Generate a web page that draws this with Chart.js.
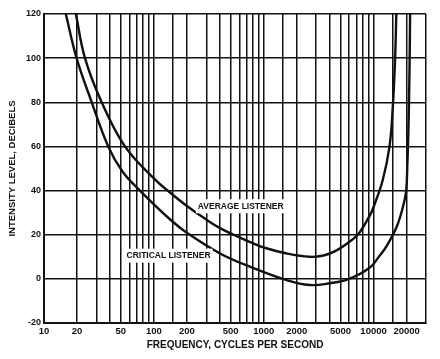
<!DOCTYPE html>
<html>
<head>
<meta charset="utf-8">
<script src="https://cdn.jsdelivr.net/npm/chart.js@4.4.1/dist/chart.umd.min.js"></script>
<style>
html,body{margin:0;padding:0;background:#fff;}
#wrap{width:440px;height:359px;}
</style>
</head>
<body>
<div id="wrap"><canvas id="c" width="440" height="359"></canvas></div>
<script>
// Frequencies (Hz) and intensity levels (dB)
const criticalFreq = [15.8, 19.8, 27.2, 38.4, 52, 74.6, 140, 198, 400, 794, 1618, 2618, 4000, 6000, 9200, 11340, 13000, 16200, 18500, 19800, 20300, 20700, 21000, 21300, 21500];
const criticalDb   = [120, 100, 80, 60, 48.5, 40, 27, 21, 11.5, 5, -0.6, -2.8, -2, 0, 5, 10.5, 14.5, 23.5, 32.6, 40, 52, 65, 80, 100, 120];

const averageFreq = [19.5, 23.6, 33.5, 54.5, 100, 135, 200, 291, 400, 600, 794, 1000, 1618, 2618, 3500, 4570, 6490, 7460, 9200, 9900, 12100, 13970, 14960, 15700, 16100];
const averageDb   = [120, 100, 80, 60, 45.5, 39.8, 33, 27.3, 23, 18.8, 16.2, 14.2, 11.5, 10, 10.6, 12.8, 18, 21, 28.5, 32, 44.7, 60, 78, 100, 120];

const xLabeled = [10, 20, 50, 100, 200, 500, 1000, 2000, 5000, 10000, 20000];
const yTicks = [-20, 0, 20, 40, 60, 80, 100, 120];

const seriesNames = ['AVERAGE LISTENER', 'CRITICAL LISTENER'];
const xTitle = 'FREQUENCY, CYCLES PER SECOND';
const yTitle = 'INTENSITY LEVEL, DECIBELS';

const toPts = (fs, ds) => fs.map((f, i) => ({x: f, y: ds[i]}));
const INK = '#111';
const FONT = "'Liberation Sans', Arial, sans-serif";

// curve labels anchored in data coordinates
const curveLabels = [
  {text: seriesNames[0], x: 618, y: 32.9},
  {text: seriesNames[1], x: 136, y: 10.5}
];

const labelPlugin = {
  id: 'curveLabels',
  afterDatasetsDraw(chart) {
    const ctx = chart.ctx;
    const xs = chart.scales.x, ys = chart.scales.y;
    ctx.save();
    ctx.font = 'bold 8.5px ' + FONT;
    ctx.textAlign = 'center';
    ctx.textBaseline = 'middle';
    curveLabels.forEach(l => {
      const px = xs.getPixelForValue(l.x);
      const py = ys.getPixelForValue(l.y);
      const w = ctx.measureText(l.text).width;
      ctx.fillStyle = '#fff';
      ctx.fillRect(px - w / 2 - 2, py - 7, w + 4, 14);
      ctx.fillStyle = INK;
      ctx.fillText(l.text, px, py);
    });
    ctx.restore();
  }
};

new Chart(document.getElementById('c'), {
  type: 'line',
  data: {
    datasets: [
      {label: seriesNames[0], data: toPts(averageFreq, averageDb)},
      {label: seriesNames[1], data: toPts(criticalFreq, criticalDb)}
    ]
  },
  options: {
    responsive: false,
    animation: false,
    devicePixelRatio: 1,
    layout: {padding: {top: 14, right: 14, left: 0, bottom: 0}},
    elements: {
      point: {radius: 0},
      line: {borderColor: INK, borderWidth: 2.4, tension: 0.4, fill: false}
    },
    plugins: {legend: {display: false}, tooltip: {enabled: false}},
    scales: {
      x: {
        type: 'logarithmic',
        min: 10,
        max: 30000,
        afterFit(s) { s.height = 36; },
        grid: {color: INK, lineWidth: 1.5, tickLength: 0},
        border: {color: INK, width: 2},
        ticks: {
          autoSkip: false,
          maxRotation: 0,
          padding: 3,
          color: INK,
          font: {family: FONT, weight: 'bold', size: 9.5},
          callback(v) { return xLabeled.includes(Math.round(v)) ? String(Math.round(v)) : ''; }
        },
        title: {
          display: true,
          text: xTitle,
          color: INK,
          font: {family: FONT, weight: 'bold', size: 10},
          padding: {top: 0, bottom: 8}
        }
      },
      y: {
        type: 'linear',
        min: -20,
        max: 120,
        afterFit(s) { s.width = 44; },
        afterBuildTicks(s) { s.ticks = yTicks.map(v => ({value: v})); },
        grid: {color: INK, lineWidth: 1.5, tickLength: 0},
        border: {color: INK, width: 2},
        ticks: {
          padding: 3,
          color: INK,
          font: {family: FONT, weight: 'bold', size: 9}
        },
        title: {
          display: true,
          text: yTitle,
          color: INK,
          font: {family: FONT, weight: 'bold', size: 9.5},
          padding: {top: 7, bottom: 0}
        }
      }
    }
  },
  plugins: [labelPlugin]
});
</script>
</body>
</html>
